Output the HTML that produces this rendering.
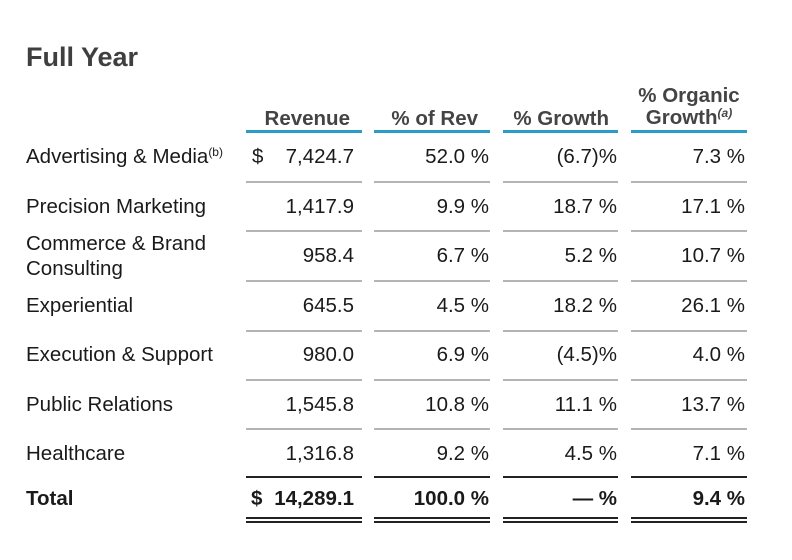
<!DOCTYPE html>
<html><head><meta charset="utf-8"><style>
body{margin:0;background:#fff;width:792px;height:560px;position:relative;overflow:hidden;font-family:"Liberation Sans",Arial,sans-serif;color:#1a1a1a}
.t{position:absolute;font-size:20.5px;line-height:22px;white-space:nowrap}
.r{text-align:right}
.h{font-weight:bold;color:#444}
.b{font-weight:bold}
.ln{position:absolute;height:0}
sup{font-size:12px;vertical-align:7px;line-height:0}
</style></head><body>
<div class="t h" style="left:26px;top:43px;font-size:27px;line-height:28px;color:#3f3f3f">Full Year</div>
<script>
const cols=[{l:246,r:362},{l:374,r:490},{l:503,r:618},{l:631,r:747}];
const rights=[354,489,617,745];
const rows=["Advertising &amp; Media<sup>(b)</sup>","Precision Marketing","Commerce &amp; Brand<br>Consulting","Experiential","Execution &amp; Support","Public Relations","Healthcare"];
const revenue=["7,424.7","1,417.9","958.4","645.5","980.0","1,545.8","1,316.8"];
const pctRev=["52.0 %","9.9 %","6.7 %","4.5 %","6.9 %","10.8 %","9.2 %"];
const growth=["(6.7)%","18.7 %","5.2 %","18.2 %","(4.5)%","11.1 %","4.5 %"];
const organic=["7.3 %","17.1 %","10.7 %","26.1 %","4.0 %","13.7 %","7.1 %"];
const totals=["14,289.1","100.0 %","— %","9.4 %"];
const rowY=[157,207,256,306,355,405,454];
const sepY=[181,230,280,330,379,428];
function add(html,cls,css,name){const d=document.createElement('div');d.className='t '+cls;d.innerHTML=html;d.style.cssText=css;


document.body.appendChild(d);return d;}
function line(x1,x2,y,h,c,name){const d=document.createElement('div');d.className='ln';d.style.cssText=`left:${x1}px;width:${x2-x1}px;top:${y}px;border-top:${h}px solid ${c}`;


document.body.appendChild(d);}
add('Revenue','h r',`right:${792-350}px;top:108px`,'header-revenue');
add('% of Rev','h r',`right:${792-478}px;top:108px`,'header-pct-rev');
add('% Growth','h r',`right:${792-609}px;top:108px`,'header-growth');
add('% Organic<br>Growth<sup><i>(a)</i></sup>','h',`left:631px;width:116px;top:85px;line-height:22px;text-align:center`,'header-organic-growth');
cols.forEach((c,i)=>line(c.l,c.r,130,3,'#2b9cc4','header-underline'));
rows.forEach((r,i)=>{
  const two=r.includes('<br>');
  add(r,'',`left:26px;top:${rowY[i]-(two?25:11)}px;line-height:${two?25:22}px`,'row-label');
  [revenue,pctRev,growth,organic].forEach((arr,j)=>add(arr[i],'r',`right:${792-rights[j]}px;top:${rowY[i]-11}px`,'cell-value'));
});
add('$','',`left:252px;top:${157-11}px`,'dollar-sign');
sepY.forEach(y=>cols.forEach(c=>line(c.l,c.r,y,2,'#b4b4b4','row-separator')));
cols.forEach(c=>line(c.l,c.r,476,2,'#222','total-rule'));
add('Total','b',`left:26px;top:488px`,'total-label');
add('$','b',`left:251px;top:488px`,'total-dollar');
totals.forEach((v,j)=>add(v,'b r',`right:${792-rights[j]}px;top:488px`,'total-value'));
cols.forEach(c=>{line(c.l,c.r,517,2,'#222','double-rule-top');line(c.l,c.r,521,2,'#222','double-rule-bottom');});
</script>
</body></html>
